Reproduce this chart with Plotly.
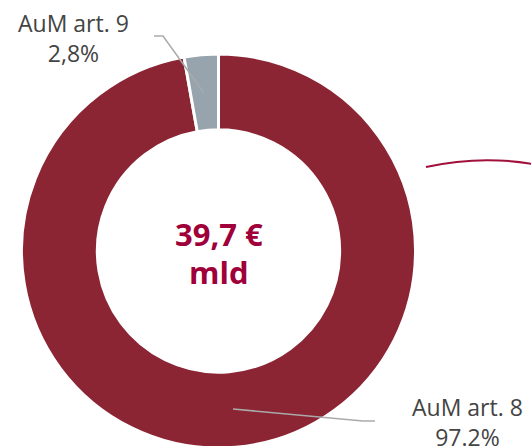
import plotly.graph_objects as go

# Asset split (share of AuM, %)
labels = ["AuM art. 9", "AuM art. 8"]
shares = [2.8, 97.2]
share_text = ["2,8%", "97.2%"]
slice_colors = ["#97a3ad", "#8b2433"]
total_lines = ["39,7 €", "mld"]

W, H = 531, 448


def px_x(x):
    return x / W


def px_y(y):
    return (H - y) / H


# art. 8 drawn first clockwise from 12 o'clock so art. 9 ends just left of the top
fig = go.Figure(
    go.Pie(
        labels=labels[::-1],
        values=shares[::-1],
        hole=0.615,
        sort=False,
        direction="clockwise",
        rotation=0,
        textinfo="none",
        hoverinfo="label+percent",
        marker=dict(colors=slice_colors[::-1], line=dict(color="white", width=3)),
        domain=dict(x=[px_x(21.5), px_x(415.5)], y=[0, px_y(54)]),
        showlegend=False,
    )
)

label_font = dict(family="Open Sans", size=23, color="#444444")

fig.add_annotation(
    x=px_x(73), y=px_y(38), xref="paper", yref="paper",
    xanchor="center", yanchor="middle",
    text=f"{labels[0]}<br>{share_text[0]}", showarrow=False,
    font=label_font, align="center",
)
fig.add_annotation(
    x=px_x(467), y=px_y(422), xref="paper", yref="paper",
    xanchor="center", yanchor="middle",
    text=f"{labels[1]}<br>{share_text[1]}", showarrow=False,
    font=label_font, align="center",
)

center_font = dict(family="Open Sans", size=31, color="#a0003a")
for line, yc in zip(total_lines, [234, 272]):
    fig.add_annotation(
        x=px_x(218.5), y=px_y(yc), xref="paper", yref="paper",
        xanchor="center", yanchor="middle",
        text=f"<b>{line}</b>", showarrow=False, font=center_font,
    )

# leader lines
leader = dict(color="#aaaaaa", width=1.5)
fig.add_shape(
    type="path", xref="paper", yref="paper", line=leader,
    path=f"M {px_x(154)} {px_y(36)} L {px_x(163)} {px_y(36)} L {px_x(204)} {px_y(93)}",
)
fig.add_shape(
    type="path", xref="paper", yref="paper", line=leader,
    path=f"M {px_x(233)} {px_y(409)} L {px_x(363)} {px_y(421)} L {px_x(375)} {px_y(421)}",
)

# edge of the neighbouring chart
fig.add_shape(
    type="path", xref="paper", yref="paper", line=dict(color="#a0103a", width=2),
    path=f"M {px_x(426)} {px_y(167)} Q {px_x(480)} {px_y(155)} {px_x(533)} {px_y(164)}",
)

fig.update_layout(
    width=W, height=H,
    margin=dict(l=0, r=0, t=0, b=0),
    paper_bgcolor="white", plot_bgcolor="white",
)

# drop the default body margin so the figure sits at the window origin
fig.write_html(
    "out.html",
    config={"displayModeBar": False},
    post_script="document.body.style.margin='0';document.body.style.overflow='hidden';",
)
